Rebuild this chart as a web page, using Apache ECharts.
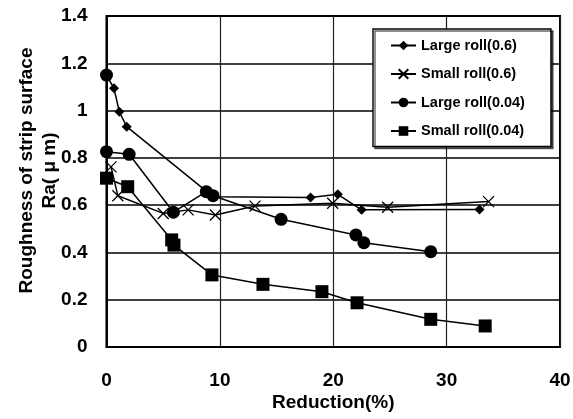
<!DOCTYPE html>
<html>
<head>
<meta charset="utf-8">
<script src="https://cdn.jsdelivr.net/npm/echarts@6/dist/echarts.min.js"></script>
<style>html,body{margin:0;padding:0;background:#fff;}#c{width:573px;height:419px;}</style>
</head>
<body>
<div id="c"></div>
<script>
// Data: [reduction %, Ra µm]
const largeRoll06 = [[0,1.15],[0.66,1.094],[1.13,0.995],[1.78,0.932],[9.4,0.636],[18.0,0.632],[20.4,0.646],[22.5,0.58],[32.9,0.582]];
const smallRoll06 = [[0.4,0.762],[1.0,0.64],[5.0,0.565],[7.2,0.58],[9.6,0.558],[13.1,0.596],[19.95,0.608],[24.8,0.591],[33.7,0.615]];
const largeRoll004 = [[0,1.15],[0,0.826],[2.0,0.815],[5.9,0.57],[8.8,0.657],[9.4,0.64],[15.4,0.54],[22.0,0.474],[22.7,0.441],[28.6,0.403]];
const smallRoll004 = [[0,0.714],[1.87,0.678],[5.75,0.453],[5.95,0.431],[9.3,0.305],[13.8,0.265],[19.0,0.234],[22.1,0.187],[28.6,0.117],[33.4,0.089]];
const seriesNames = ['Large roll(0.6)','Small roll(0.6)','Large roll(0.04)','Small roll(0.04)'];
const xTicks = [0,10,20,30,40];
const yTicks = [0,0.2,0.4,0.6,0.8,1,1.2,1.4];

const FONT = '"Liberation Sans", Arial, sans-serif';
const chart = echarts.init(document.getElementById('c'), null, {renderer:'canvas'});
const crossPath = 'path://M0,0L10,10M10,0L0,10';
function mk(name, data, symbol, size, fill) {
  return {
    name, type:'line', data, symbol, symbolSize:size,
    lineStyle:{color:'#000', width:1.5},
    itemStyle: fill ? {color:'#000', borderColor:'#000', borderWidth:0}
                    : {color:'none', borderColor:'#000', borderWidth:1.3},
    emphasis:{disabled:true},
    z: 3
  };
}
chart.setOption({
  animation:false,
  backgroundColor:'#fff',
  grid:{left:106.5, right:13, top:16, bottom:72, outerBoundsMode:'none', containLabel:false,
        show:true, borderColor:'#000', borderWidth:2, backgroundColor:'transparent'},
  legend:{
    orient:'vertical', left:373, top:29,
    padding:[9,26,8,17],
    itemGap:13.5, itemWidth:25, itemHeight:12,
    backgroundColor:'#fff', borderColor:'#000', borderWidth:1.4,
    shadowColor:'rgba(0,0,0,0.6)', shadowOffsetX:2, shadowOffsetY:2, shadowBlur:0,
    textStyle:{fontFamily:FONT, fontSize:14.5, fontWeight:'bold', color:'#000'},
    data: seriesNames
  },
  xAxis:{
    type:'value', min:xTicks[0], max:xTicks[xTicks.length-1], interval:10,
    name:'Reduction(%)', nameLocation:'middle', nameGap:46, nameMoveOverlap:false,
    nameTextStyle:{fontFamily:FONT, fontSize:19, fontWeight:'bold', color:'#000'},
    axisLine:{show:true, lineStyle:{color:'#000', width:2}},
    axisTick:{show:false},
    axisLabel:{fontFamily:FONT, fontSize:19, fontWeight:'bold', color:'#000', margin:24},
    splitLine:{show:true, lineStyle:{color:'#222', width:1.2}}
  },
  yAxis:{
    type:'value', min:yTicks[0], max:yTicks[yTicks.length-1], interval:0.2,
    name:'Roughness of strip surface\nRa( μ m)', nameLocation:'middle', nameGap:45.5, nameMoveOverlap:false,
    nameTextStyle:{fontFamily:FONT, fontSize:19, fontWeight:'bold', color:'#000', lineHeight:23, padding:[0,0,0,22]},
    axisLine:{show:true, lineStyle:{color:'#000', width:2}},
    axisTick:{show:false},
    axisLabel:{fontFamily:FONT, fontSize:19, fontWeight:'bold', color:'#000', margin:19},
    splitLine:{show:true, lineStyle:{color:'#000', width:1.6}}
  },
  series:[
    mk(seriesNames[0], largeRoll06, 'diamond', 10, true),
    mk(seriesNames[1], smallRoll06, crossPath, 11, false),
    mk(seriesNames[2], largeRoll004, 'circle', 13, true),
    mk(seriesNames[3], smallRoll004, 'rect', 13, true)
  ]
});
</script>
</body>
</html>
